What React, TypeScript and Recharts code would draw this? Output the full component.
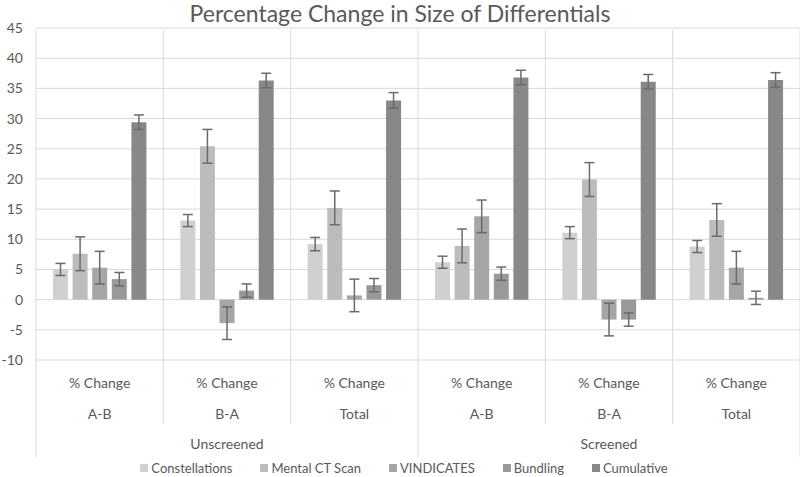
import { BarChart, Bar, XAxis, YAxis, CartesianGrid, ErrorBar, Legend } from "recharts";

const groups = ["Unscreened", "Unscreened", "Unscreened", "Screened", "Screened", "Screened"];
const subs = ["A-B", "B-A", "Total", "A-B", "B-A", "Total"];
const yTicks = [-10, -5, 0, 5, 10, 15, 20, 25, 30, 35, 40, 45];

const constellations = [5.0, 13.1, 9.2, 6.2, 11.1, 8.8];
const constellationsErr = [1.0, 1.0, 1.1, 1.0, 1.0, 1.0];
const mentalCT = [7.6, 25.4, 15.2, 8.9, 19.9, 13.2];
const mentalCTErr = [2.8, 2.8, 2.8, 2.8, 2.8, 2.7];
const vindicates = [5.3, -3.9, 0.7, 13.8, -3.3, 5.3];
const vindicatesErr = [2.7, 2.7, 2.7, 2.7, 2.7, 2.7];
const bundling = [3.4, 1.5, 2.4, 4.3, -3.3, 0.3];
const bundlingErr = [1.1, 1.1, 1.1, 1.1, 1.1, 1.1];
const cumulative = [29.4, 36.3, 33.0, 36.8, 36.1, 36.4];
const cumulativeErr = [1.2, 1.2, 1.3, 1.2, 1.2, 1.2];

const data = subs.map((s, i) => ({
  sub: s,
  group: groups[i],
  constellations: constellations[i],
  constellationsErr: constellationsErr[i],
  mentalCT: mentalCT[i],
  mentalCTErr: mentalCTErr[i],
  vindicates: vindicates[i],
  vindicatesErr: vindicatesErr[i],
  bundling: bundling[i],
  bundlingErr: bundlingErr[i],
  cumulative: cumulative[i],
  cumulativeErr: cumulativeErr[i],
}));

const series = [
  { key: "constellations", name: "Constellations", color: "#d0d0d0" },
  { key: "mentalCT", name: "Mental CT Scan", color: "#bcbcbc" },
  { key: "vindicates", name: "VINDICATES", color: "#a6a6a6" },
  { key: "bundling", name: "Bundling", color: "#999999" },
  { key: "cumulative", name: "Cumulative", color: "#888888" },
];

const FONT = "Lato, 'Open Sans', sans-serif";
const TEXT = "#595959";
const GRID = "#d9d9d9";
const W = 800;
const H = 477;
const TOP = 28;
const PLOT_H = 332;

function CategoryTick(props: any) {
  const { x, y, index, payload, width } = props;
  const bw = width / data.length;
  const left = x - bw / 2;
  const top = y - PLOT_H;
  const isGroupStart = index % 3 === 0;
  return (
    <g>
      <line x1={left} x2={left} y1={top} y2={isGroupStart ? y + 95 : y + 62} stroke={GRID} />
      {index === data.length - 1 && (
        <line x1={x + bw / 2} x2={x + bw / 2} y1={top} y2={y + 95} stroke={GRID} />
      )}
      <text x={x} y={y + 26} textAnchor="middle" fill={TEXT} fontSize={14} fontFamily={FONT}>
        % Change
      </text>
      <text x={x} y={y + 57} textAnchor="middle" fill={TEXT} fontSize={14} fontFamily={FONT}>
        {payload.value}
      </text>
      {index % 3 === 1 && (
        <text x={x} y={y + 87} textAnchor="middle" fill={TEXT} fontSize={14} fontFamily={FONT}>
          {data[index].group}
        </text>
      )}
    </g>
  );
}

function LegendContent() {
  return (
    <div
      style={{
        display: "flex",
        justifyContent: "center",
        gap: 28,
        fontFamily: FONT,
        fontSize: 13,
        color: TEXT,
        paddingLeft: 8,
        marginTop: 3,
      }}
    >
      {series.map((s) => (
        <div key={s.key} style={{ display: "flex", alignItems: "center", gap: 3 }}>
          <span style={{ width: 8, height: 8, background: s.color, display: "inline-block" }} />
          <span>{s.name}</span>
        </div>
      ))}
    </div>
  );
}

export default function App() {
  return (
    <div style={{ position: "absolute", left: 0, top: 0, width: W, height: H, background: "#fff" }}>
      <div
        style={{
          position: "absolute",
          top: -1,
          width: W,
          textAlign: "center",
          fontFamily: FONT,
          fontSize: 23,
          color: TEXT,
        }}
      >
        Percentage Change in Size of Differentials
      </div>
      <BarChart
        width={W}
        height={H}
        data={data}
        margin={{ top: TOP, right: 0, left: 0, bottom: 0 }}
        barSize={15}
        barGap={4.6}
      >
        <CartesianGrid vertical={false} stroke={GRID} />
        <YAxis
          width={36}
          domain={[-10, 45]}
          ticks={yTicks}
          axisLine={false}
          tickLine={false}
          tickSize={0}
          tickMargin={13}
          interval={0}
          tick={{ fill: TEXT, fontSize: 14, fontFamily: FONT }}
        />
        <XAxis
          dataKey="sub"
          height={H - TOP - PLOT_H - 20}
          axisLine={false}
          tickLine={false}
          interval={0}
          tickSize={0}
          tick={<CategoryTick />}
        />
        {series.map((s) => (
          <Bar key={s.key} dataKey={s.key} name={s.name} fill={s.color} isAnimationActive={false}>
            <ErrorBar dataKey={s.key + "Err"} width={5} stroke="#6b6b6b" strokeWidth={1.5} />
          </Bar>
        ))}
        <Legend verticalAlign="bottom" height={20} content={<LegendContent />} />
      </BarChart>
    </div>
  );
}
